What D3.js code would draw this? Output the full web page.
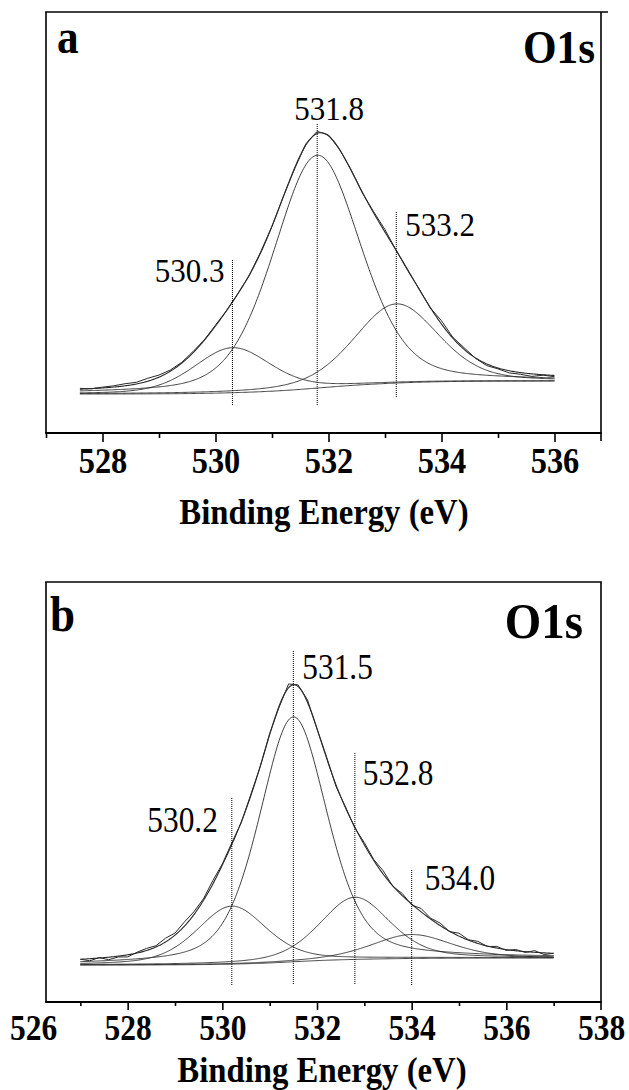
<!DOCTYPE html>
<html>
<head>
<meta charset="utf-8">
<script src="https://cdn.jsdelivr.net/npm/d3@7"></script>
<style>
  body { margin: 0; background: #fff; }
  svg { display: block; }
  svg text { font-family: "Liberation Serif", "DejaVu Serif", serif !important; fill: #000; }
</style>
</head>
<body>
<svg id="fig" width="629" height="1090"></svg>
<script>
// ---------------- O 1s, sample a ----------------
const ticksMajorA = [528, 530, 532, 534, 536];
const ticksMinorA = [527, 529, 531, 533, 535];
const centersA = [530.3, 531.8, 533.2];
const heightsA = [10.7, 55.3, 18.8];
const fwhmA = [1.6, 1.82, 1.75];
const lorentzA = 0.3;                 // Lorentzian fraction of the pseudo-Voigt
const scanA = [527.6, 536.0];         // first / last binding energy of the scan
const backgroundA = [9.26, 12.35];    // Shirley background at the scan ends
// measured minus fitted intensity, every 0.2 eV from 527.6
const residualA = [0.2, 0.0, 0.2, 0.3, 0.5, 0.4, 0.7, 0.5, 0.3, 0.2, 0.3, 0.1, 0.2, 0.0, 0.1,
  -0.1, 0.2, 0.0, 0.1, -0.2, 0.3, 0.5, 0.2, 0.0, 0.1, -0.2, 0.3, 0.6, 0.0, -0.2, 0.1, -0.1,
  0.8, 0.2, 0.4, -0.1, -0.4, -0.2, -0.5, -0.4, -0.6, -0.1, -0.3];

// ---------------- O 1s, sample b ----------------
const ticksMajorB = [526, 528, 530, 532, 534, 536, 538];
const ticksMinorB = [527, 529, 531, 533, 535, 537];
const centersB = [530.2, 531.5, 532.8, 534.0];
const heightsB = [13.8, 58.3, 14.8, 5.7];
const fwhmB = [1.75, 1.7, 1.75, 2.0];
const lorentzB = 0.4;
const scanB = [527.0, 537.0];
const backgroundB = [8.81, 10.48];
const residualB = [0.0, -0.5, 0.1, -0.6, -0.2, -0.5, 0.2, 0.5, 0.3, 0.9, 0.5, 1.0, 0.7, 0.4, 0.8,
  0.3, 0.4, -0.2, 0.3, -0.1, 0.3, -0.3, 0.9, 0.4, 0.6, 0.0, 0.3, -0.4, 0.2, -0.2, 0.5, 0.2,
  0.8, -0.1, 0.5, -0.2, 0.8, 0.2, 0.6, -0.1, 0.7, 0.1, 0.5, -0.1, 0.4, -0.2, 0.3, -0.2, 0.4,
  -0.4, 0.0];

const axisTitle = "Binding Energy (eV)";
const coreLevel = "O1s";

const svg = d3.select("#fig");
const frameLeft = 46, frameRight = 601;
const ink = "#2a2a2a";
const serif = "'Liberation Serif', 'DejaVu Serif', serif";

function pseudoVoigt(E, c, h, w, eta) {
  const u = (E - c) / w;
  return h * ((1 - eta) * Math.exp(-4 * Math.LN2 * u * u) + eta / (1 + 4 * u * u));
}

// Fitted model on a fine energy grid, with a Shirley background
function buildFit(scan, centers, heights, fwhm, eta, bgEnds) {
  const step = 0.02;
  const n = Math.round((scan[1] - scan[0]) / step);
  const E = d3.range(n + 1).map(k => scan[0] + k * step);
  const comps = centers.map((c, i) => E.map(e => pseudoVoigt(e, c, heights[i], fwhm[i], eta)));
  const total = E.map((e, k) => d3.sum(comps, c => c[k]));
  const cum = [0];
  for (let k = 1; k <= n; k++) cum.push(cum[k - 1] + 0.5 * (total[k] + total[k - 1]) * step);
  const bg = cum.map(a => bgEnds[0] + (bgEnds[1] - bgEnds[0]) * a / cum[n]);
  return { E, comps, total, bg, step };
}

function serifText(sel) {
  return sel.style("font-family", serif).attr("fill", "#000");
}

function drawPanel(o) {
  const g = svg.append("g");
  const fit = buildFit(o.scan, o.centers, o.heights, o.fwhm, o.eta, o.bgEnds);
  const { E, comps, total, bg } = fit;
  const line = d3.line().x(d => o.x(d[0])).y(d => o.y(d[1]));

  const curves = g.append("g").attr("fill", "none").attr("stroke", ink).attr("stroke-width", 0.9);
  // background
  curves.append("path").attr("d", line(E.map((e, k) => [e, bg[k]])));
  // fitted components
  comps.forEach(c => {
    curves.append("path").attr("d", line(E.map((e, k) => [e, bg[k] + c[k]])));
  });
  // envelope
  curves.append("path").attr("stroke-width", 1.1).attr("d", line(E.map((e, k) => [e, bg[k] + total[k]])));
  // measured spectrum
  const every = Math.round(0.2 / fit.step);
  const raw = o.residual.map((r, i) => {
    const k = Math.min(i * every, E.length - 1);
    return [E[k], bg[k] + total[k] + r];
  });
  curves.append("path").attr("stroke-width", 1).attr("d", line(raw));

  // peak position markers and labels
  o.centers.forEach((c, i) => {
    const m = o.marks[i];
    const xp = o.x(c);
    g.append("line").attr("x1", xp).attr("x2", xp).attr("y1", m.top).attr("y2", m.bottom)
      .attr("stroke", "#000").attr("stroke-width", 1).attr("stroke-dasharray", "1,1");
    const anchor = m.side === "left" ? "end" : m.side === "right" ? "start" : "middle";
    serifText(g.append("text"))
      .attr("transform", `translate(${xp + m.dx},${m.base}) scale(${o.labelScale},1)`)
      .attr("text-anchor", anchor)
      .attr("font-size", o.labelSize)
      .text(c.toFixed(1));
  });

  // frame
  const fr = g.append("g").attr("stroke", "#000").attr("fill", "none");
  fr.append("line").attr("x1", frameLeft).attr("x2", frameLeft).attr("y1", o.top).attr("y2", o.bottom).attr("stroke-width", 1.6);
  fr.append("line").attr("x1", frameLeft - 0.8).attr("x2", o.topEnd).attr("y1", o.top).attr("y2", o.top).attr("stroke-width", 1.6);
  fr.append("line").attr("x1", frameRight).attr("x2", frameRight).attr("y1", o.top).attr("y2", o.bottom + o.rightTick).attr("stroke-width", 1.6);
  fr.append("line").attr("x1", frameLeft - 0.8).attr("x2", frameRight + 0.8).attr("y1", o.bottom).attr("y2", o.bottom).attr("stroke-width", 2);

  // x axis: major ticks with labels, minor ticks without
  const inside = v => o.x(v) >= frameLeft - 0.5 && o.x(v) <= frameRight - 2;
  const major = g.append("g").attr("transform", `translate(0,${o.bottom})`)
    .call(d3.axisBottom(o.x).tickValues(o.ticksMajor).tickSize(o.majorLen).tickFormat(d3.format("d")));
  major.attr("font-family", null);
  major.select(".domain").remove();
  major.selectAll(".tick").each(function (d) {
    if (!inside(d)) d3.select(this).select("line").remove();
  });
  major.selectAll(".tick line").attr("stroke", "#000").attr("stroke-width", 1.6);
  serifText(major.selectAll(".tick text"))
    .attr("y", o.tickLabelOffset).attr("dy", null)
    .attr("transform", "scale(0.9,1)")
    .attr("font-weight", "bold").attr("font-size", o.tickSize);
  const minor = g.append("g").attr("transform", `translate(0,${o.bottom})`)
    .call(d3.axisBottom(o.x).tickValues(o.ticksMinor).tickSize(o.minorLen).tickFormat(""));
  minor.select(".domain").remove();
  minor.selectAll(".tick line").attr("stroke", "#000").attr("stroke-width", 1.6);

  // axis title and panel captions
  serifText(g.append("text")).attr("transform", `translate(${o.titleX},${o.titleY}) scale(0.91,1)`)
    .attr("text-anchor", "middle").attr("font-weight", "bold").attr("font-size", 36).text(axisTitle);
  serifText(g.append("text")).attr("transform", `translate(${o.letterX},${o.letterY}) scale(0.9,1)`)
    .attr("font-weight", "bold").attr("font-size", o.letterSize).text(o.letter);
  serifText(g.append("text")).attr("transform", `translate(${o.levelX},${o.levelY}) scale(0.92,1)`)
    .attr("text-anchor", "end").attr("font-weight", "bold").attr("font-size", o.levelSize).text(coreLevel);
}

// panel a
drawPanel({
  x: d3.scaleLinear([527, 537], [46, 611]),
  y: d3.scaleLinear([0, 100], [433, 12]),
  top: 12, bottom: 433, topEnd: 608, rightTick: 8,
  scan: scanA, centers: centersA, heights: heightsA, fwhm: fwhmA, eta: lorentzA,
  bgEnds: backgroundA, residual: residualA,
  ticksMajor: ticksMajorA, ticksMinor: ticksMinorA, majorLen: 9, minorLen: 5,
  tickSize: 36, tickLabelOffset: 40,
  marks: [
    { top: 260, bottom: 406, side: "left", dx: -8, base: 282 },
    { top: 124, bottom: 406, side: "middle", dx: 12, base: 120 },
    { top: 212, bottom: 398, side: "right", dx: 9, base: 236 }
  ],
  labelSize: 33, labelScale: 0.94,
  titleX: 324, titleY: 524,
  letter: "a", letterX: 57, letterY: 53, letterSize: 48,
  levelX: 595, levelY: 63, levelSize: 47
});

// panel b
drawPanel({
  x: d3.scaleLinear([526, 538], [33, 601]),
  y: d3.scaleLinear([0, 100], [1002, 582]),
  top: 582, bottom: 1002, topEnd: 601.8, rightTick: 8,
  scan: scanB, centers: centersB, heights: heightsB, fwhm: fwhmB, eta: lorentzB,
  bgEnds: backgroundB, residual: residualB,
  ticksMajor: ticksMajorB, ticksMinor: ticksMinorB, majorLen: 8, minorLen: 4,
  tickSize: 35, tickLabelOffset: 38,
  marks: [
    { top: 798, bottom: 985, side: "left", dx: -14, base: 832 },
    { top: 651, bottom: 985, side: "right", dx: 9, base: 679 },
    { top: 753, bottom: 985, side: "right", dx: 8, base: 785 },
    { top: 870, bottom: 985, side: "right", dx: 13, base: 890 }
  ],
  labelSize: 36, labelScale: 0.87,
  titleX: 322, titleY: 1082,
  letter: "b", letterX: 50, letterY: 631, letterSize: 50,
  levelX: 583, levelY: 638, levelSize: 51
});
</script>
</body>
</html>
